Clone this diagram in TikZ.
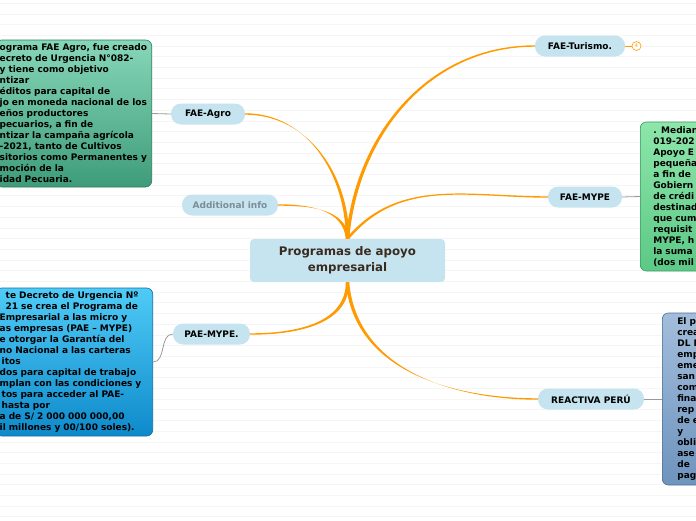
\documentclass[tikz,border=0pt]{standalone}
\usepackage{fontspec}
\setmainfont{DejaVu Sans}
\usetikzlibrary{positioning,calc}
\definecolor{topicfill}{HTML}{C5E4EF}
\definecolor{branchcol}{HTML}{FF9A00}
\definecolor{titletext}{HTML}{3B2A1F}
\definecolor{infotext}{HTML}{7C8D96}
\definecolor{agrotop}{HTML}{86D7B8}
\definecolor{agrobot}{HTML}{3E9C7B}
\definecolor{agroedge}{HTML}{2E7A5E}
\definecolor{paetop}{HTML}{4FCBF7}
\definecolor{paebot}{HTML}{0E8ACB}
\definecolor{paeedge}{HTML}{0B6FA6}
\definecolor{mypetop}{HTML}{8DE6AA}
\definecolor{mypebot}{HTML}{5CC986}
\definecolor{mypeedge}{HTML}{3C9A5F}
\definecolor{reacttop}{HTML}{A3BEDC}
\definecolor{reactbot}{HTML}{6E93BD}
\definecolor{reactedge}{HTML}{4E6F95}
% tapered branch: start, end, out, in
\newcommand{\branchto}[4]{%
  \fill[branch] ($(#1)+(-1.7,0)$) to[out=#3, in=#4] ($(#2)+(0,0.7)$)
    -- ($(#2)+(0,-0.7)$) to[out=#4, in=#3] ($(#1)+(1.7,0)$) -- cycle;}

\begin{document}
\begin{tikzpicture}
  [
    x=1pt, y=1pt,
    topic/.style =
      {fill=topicfill, rounded corners=10pt, minimum height=21pt, inner sep=0pt,
       font=\fontsize{9}{11}\selectfont\bfseries},
    note/.style =
      {rounded corners=6pt, inner ysep=3pt, align=left, line width=0.6pt,
       font=\fontsize{9}{11}\selectfont\bfseries},
    branch/.style={fill=branchcol},
    link/.style={draw=black!40, line width=0.8pt}
  ]
  \clip (0,0) rectangle (696,-520);
  \foreach \k in {0,...,48}
    \draw[black!4] (0,-3-\k*10.7) -- (696,-3-\k*10.7);

  \node[fill=topicfill, rounded corners=4pt, minimum width=195pt, minimum height=43pt,
        align=center, text=titletext, font=\fontsize{11.8}{16}\selectfont\bfseries]
        at (347.5,-260.5) (main) {Programas de apoyo\\empresarial};

  \node[topic, minimum width=74pt] at (208,-114) (agro) {FAE-Agro};
  \node[topic, minimum width=96pt, text=infotext] at (230,-205) (info) {Additional info};
  \node[topic, minimum width=77pt] at (211.5,-334) (pae) {PAE-MYPE.};
  \node[topic, minimum width=90pt] at (580,-46) (turismo) {FAE-Turismo.};
  \node[topic, minimum width=74pt] at (585,-197) (mype) {FAE-MYPE};
  \node[topic, minimum width=106pt] at (591,-399) (reactiva) {REACTIVA PERÚ};

  \node[circle, draw=branchcol, fill=white, line width=0.6pt, minimum size=9pt, inner sep=0pt,
        text=branchcol, font=\fontsize{5}{5}\selectfont, right=6.5pt of turismo] (count) {4};

  \node[note, top color=agrotop, bottom color=agrobot, draw=agroedge, text width=148pt,
        inner xsep=4pt, minimum height=147pt, anchor=east] at (152,-113.5) (agrobox)
    {ograma FAE Agro, fue creado\\ecreto de Urgencia N°082-\\y tiene como objetivo\\ntizar\\
     éditos para capital de\\jo en moneda nacional de los\\eños productores\\
     pecuarios, a fin de\\ntizar la campaña agrícola\\-2021, tanto de Cultivos\\
     sitorios como Permanentes y\\moción de la\\idad Pecuaria.};

  \node[note, top color=paetop, bottom color=paebot, draw=paeedge, text width=149pt,
        inner xsep=4pt, minimum height=148pt, anchor=east] at (153,-362) (paebox)
    {\hspace*{6pt}te Decreto de Urgencia Nº\\\hspace*{6pt}21 se crea el Programa de\\
     Empresarial a las micro y\\as empresas (PAE – MYPE)\\e otorgar la Garantía del\\
     no Nacional a las carteras\\\hspace*{2pt}itos\\dos para capital de trabajo\\
     mplan con las condiciones y\\\hspace*{2pt}tos para acceder al PAE-\\\hspace*{2pt}hasta por\\
     a de S/ 2 000 000 000,00\\il millones y 00/100 soles).};

  \node[note, top color=mypetop, bottom color=mypebot, draw=mypeedge, text width=80pt,
        inner xsep=13pt, minimum height=149pt, anchor=west] at (640,-196.5) (mypebox)
    {. Median\\019-202\\Apoyo E\\pequeña\\a fin de\\Gobiern\\de crédi\\destinad\\
     que cum\\requisit\\MYPE, h\\la suma\\(dos mil};

  \node[note, top color=reacttop, bottom color=reactbot, draw=reactedge, text width=60pt,
        inner xsep=15pt, minimum height=172pt, anchor=west] at (662,-399) (reactbox)
    {El p\\crea\\DL N\\emp\\eme\\san\\com\\fina\\rep\\de e\\y\\obli\\ase\\de\\pag};

  \branchto{main.north}{agro.east}{90}{0}
  \branchto{main.north}{info.east}{95}{0}
  \branchto{main.north}{turismo.west}{85}{180}
  \branchto{main.north}{mype.west}{50}{180}
  \branchto{main.south}{pae.east}{-90}{0}
  \branchto{main.south}{reactiva.west}{-85}{180}
  \draw[draw=branchcol, line width=0.8pt] (turismo.east) -- (count.west);

  \draw[link] (agrobox.east) -- (agro.west);
  \draw[link] (paebox.east) to[out=0, in=180] (pae.west);
  \draw[link] (mype.east) -- (mypebox.west);
  \draw[link] (reactiva.east) -- (reactbox.west);

\end{tikzpicture}
\end{document}
